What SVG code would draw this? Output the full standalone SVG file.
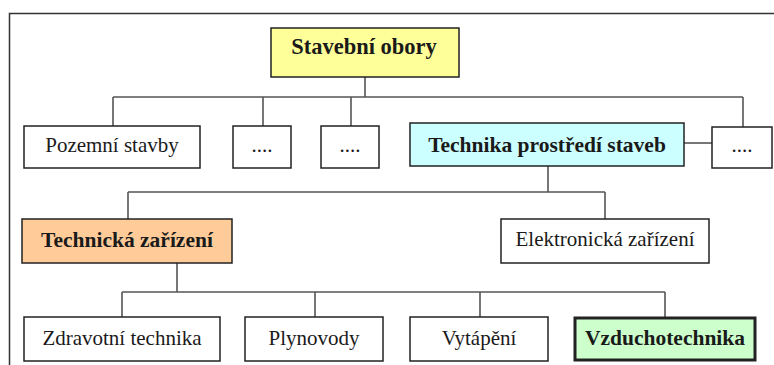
<svg xmlns="http://www.w3.org/2000/svg" width="774" height="365" viewBox="0 0 774 365">
  <style>
    .box { stroke: #222; stroke-width: 1.5; fill: #fff; }
    text { font-family: 'Liberation Serif', 'DejaVu Serif', serif; font-size: 21px; fill: #1a1a1a; text-anchor: middle; }
    .b { font-weight: bold; font-size: 21.5px; }
    .conn { stroke: #555; stroke-width: 1.6; fill: none; }
  </style>
  <rect width="774" height="365" fill="#fff"/>
  <!-- outer frame -->
  <path d="M9.5 365 V13.5 H774" stroke="#333" stroke-width="1.5" fill="none"/>

  <g id="connectors" class="conn">
    <path d="M365 77 V97 M113 97 H743 M113 97 V126 M263 97 V126 M351 97 V126 M743 97 V127"/>
    <path d="M684 143 H712"/>
    <path d="M548 147 V192 M128 192 H605 M128 192 V219 M605 192 V219"/>
    <path d="M177 263 V292 M122 292 H665 M122 292 V317 M315 292 V317 M480 292 V317 M665 292 V317"/>
  </g>

  <g id="stavebni-obory">
    <rect class="box" x="271" y="28" width="188" height="49" style="fill:#ffff99"/>
    <text class="b" x="364" y="54" style="font-size:22.5px">Stavební obory</text>
  </g>
  <g id="pozemni-stavby">
    <rect class="box" x="24" y="126" width="176" height="42"/>
    <text x="112" y="152">Pozemní stavby</text>
  </g>
  <g id="obor-2">
    <rect class="box" x="233" y="126" width="58" height="42"/>
    <text x="262" y="152">....</text>
  </g>
  <g id="obor-3">
    <rect class="box" x="321" y="126" width="58" height="42"/>
    <text x="350" y="152">....</text>
  </g>
  <g id="technika-prostredi-staveb">
    <rect class="box" x="410" y="123" width="274" height="43" style="fill:#ccffff"/>
    <text class="b" x="547" y="152">Technika prostředí staveb</text>
  </g>
  <g id="obor-5">
    <rect class="box" x="712" y="127" width="60" height="41"/>
    <text x="742" y="152">....</text>
  </g>
  <g id="technicka-zarizeni">
    <rect class="box" x="22" y="219" width="210" height="44" style="fill:#ffcc99"/>
    <text class="b" x="127" y="247">Technická zařízení</text>
  </g>
  <g id="elektronicka-zarizeni">
    <rect class="box" x="501" y="219" width="208" height="44"/>
    <text x="605" y="246">Elektronická zařízení</text>
  </g>
  <g id="zdravotni-technika">
    <rect class="box" x="24" y="317" width="196" height="44"/>
    <text x="122" y="345">Zdravotní technika</text>
  </g>
  <g id="plynovody">
    <rect class="box" x="245" y="317" width="138" height="44"/>
    <text x="314" y="345">Plynovody</text>
  </g>
  <g id="vytapeni">
    <rect class="box" x="410" y="317" width="138" height="44"/>
    <text x="479" y="345">Vytápění</text>
  </g>
  <g id="vzduchotechnika">
    <rect class="box" x="575" y="318" width="180" height="42" style="fill:#ccffcc;stroke-width:3"/>
    <text class="b" x="665" y="345">Vzduchotechnika</text>
  </g>
</svg>
